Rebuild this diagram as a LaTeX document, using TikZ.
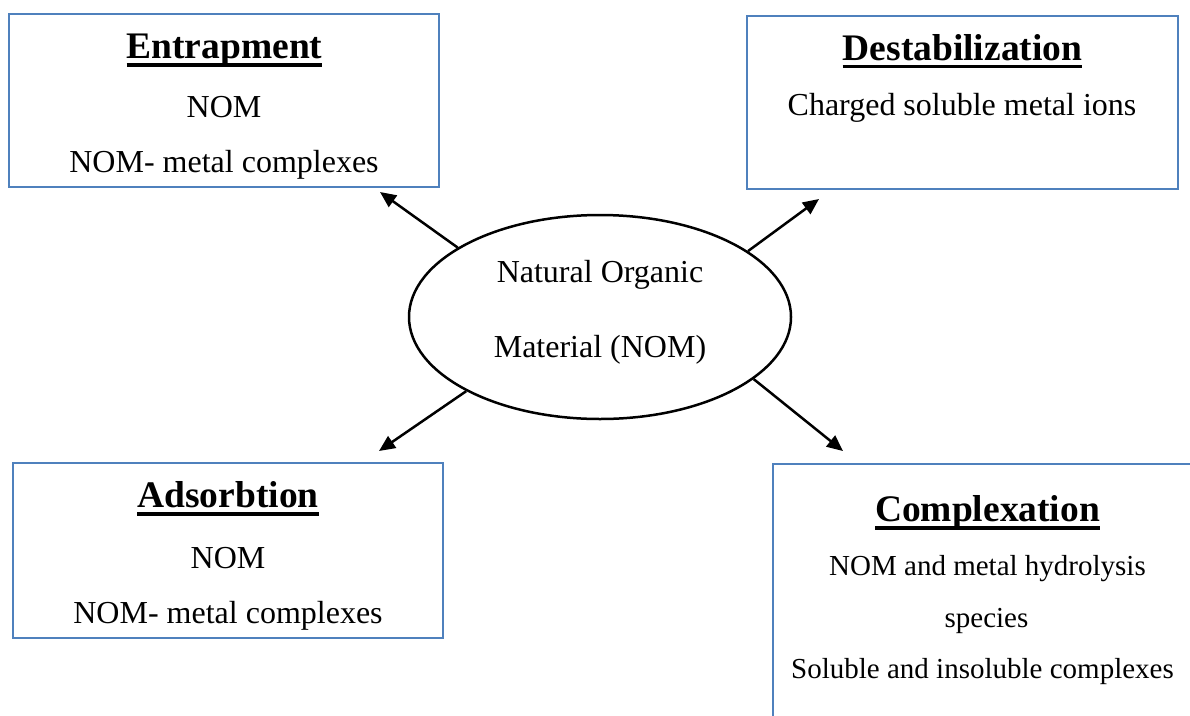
\documentclass[tikz,border=0pt]{standalone}
\usepackage{fontspec}
\setmainfont{Liberation Serif}
\usetikzlibrary{arrows.meta,shapes.geometric}
\definecolor{boxblue}{HTML}{4F81BD}
\newcommand\ttlul[1]{\setbox0\hbox{#1}\rlap{\rule[-8pt]{\wd0}{3.5pt}}\box0}
\tikzset{
  procbox/.style={draw=boxblue, line width=2pt, rectangle, inner sep=0pt},
  ttl/.style={anchor=base, inner sep=0pt, font=\fontsize{37.5}{40}\selectfont\bfseries},
  body/.style={anchor=base, inner sep=0pt, font=\fontsize{32}{36}\selectfont},
  cbody/.style={anchor=base, inner sep=0pt, font=\fontsize{29}{33}\selectfont},
  arr/.style={line width=2.5pt, -{Triangle[length=16pt,width=14pt]}},
}
\begin{document}
\begin{tikzpicture}[x=1pt,y=-1pt]
\useasboundingbox (0,0) rectangle (1190,715);
% boxes
\node[procbox, minimum width=430pt, minimum height=173pt] (ent) at (224,100.5) {};
\node[procbox, minimum width=431pt, minimum height=173pt] (des) at (962.5,102.5) {};
\node[procbox, minimum width=430pt, minimum height=175pt] (ads) at (228,550.5) {};
\node[rectangle, inner sep=0pt, minimum width=430pt, minimum height=270pt] (cpx) at (988,599) {};
\begin{scope}
\clip (0,0) rectangle (1190,715);
\draw[draw=boxblue, line width=2pt] (cpx.south west) |- (cpx.north east);
\end{scope}
% ellipse
\node[draw, ellipse, line width=2.5pt, minimum width=382pt, minimum height=204pt, inner sep=0pt] (nom) at (600,317) {};
\node[body] (nom1) at (600,282) {Natural Organic};
\node[body] (nom2) at (600,357) {Material (NOM)};
% texts
\node[ttl] (entT) at (224.5,58.5) {\ttlul{Entrapment}};
\node[body] (ent1) at (224,117) {NOM};
\node[body] (ent2) at (224,172) {NOM- metal complexes};
\node[ttl] (desT) at (962.5,60) {\ttlul{Destabilization}};
\node[body] (des1) at (962,115) {Charged soluble metal ions};
\node[ttl] (adsT) at (228,507.5) {\ttlul{Adsorbtion}};
\node[body] (ads1) at (228,568) {NOM};
\node[body] (ads2) at (228,623) {NOM- metal complexes};
\node[ttl] (cpxT) at (987.5,521.5) {\ttlul{Complexation}};
\node[cbody] (cpx1) at (987.5,575) {NOM and metal hydrolysis};
\node[cbody] (cpx2) at (986.5,627) {species};
\node[cbody] (cpx3) at (982.5,678) {Soluble and insoluble complexes};
% arrow tips
\coordinate (tA) at (380,192);
\coordinate (tB) at (819,199);
\coordinate (tC) at (379,451);
\coordinate (tD) at (843,451);
\draw[arr] (nom.154.1) -- (tA);
\draw[arr] (nom.24.7) -- (tB);
\draw[arr] (nom.209.4) -- (tC);
\draw[arr] (nom.338.7) -- (tD);
\end{tikzpicture}
\end{document}
